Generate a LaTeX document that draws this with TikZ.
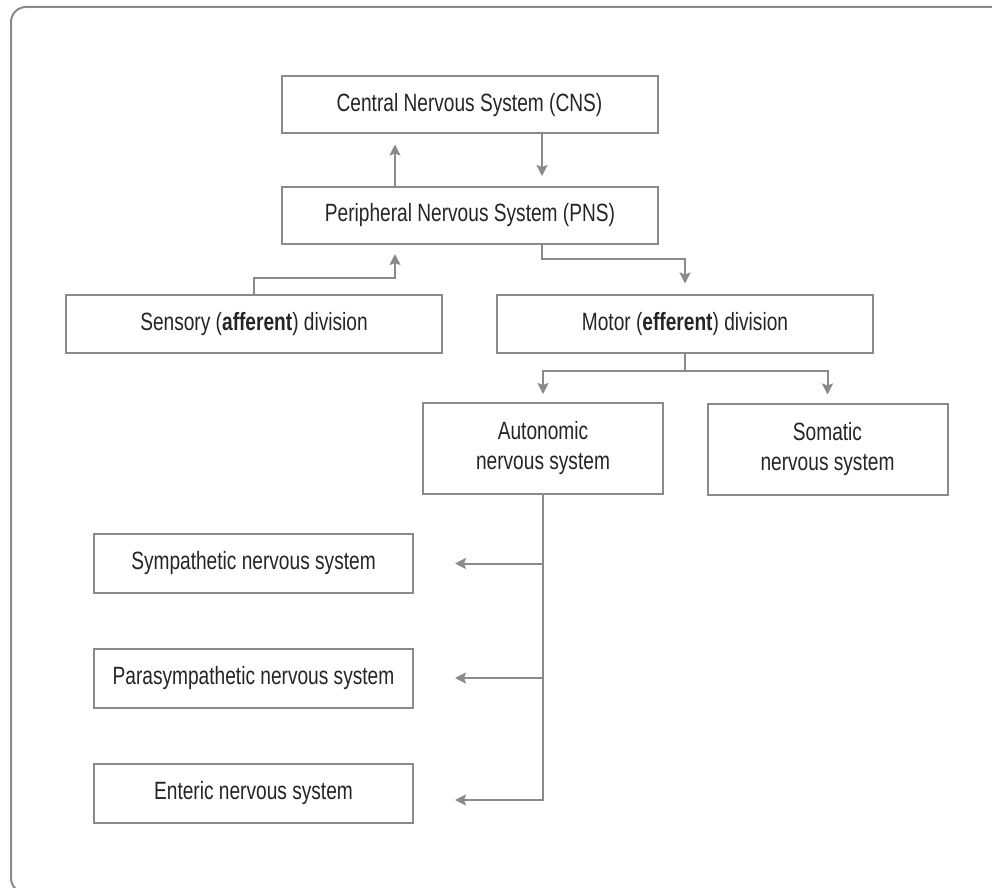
\documentclass[tikz,border=0pt]{standalone}
\usepackage{fontspec}
\setmainfont{Liberation Sans}[FakeStretch=0.765]
\usetikzlibrary{arrows.meta}
\definecolor{linegray}{HTML}{8A8A8A}
\definecolor{txt}{HTML}{252525}
\begin{document}
\begin{tikzpicture}[x=0.5pt,y=-0.5pt,
  box/.style={draw=linegray,line width=1pt,fill=white,text=txt,
    font=\fontsize{12.5}{15}\selectfont,align=center,inner sep=0pt},
  wide/.style={box,minimum width=188pt,minimum height=28.5pt},
  mid/.style={box,minimum width=120pt,minimum height=45.5pt},
  low/.style={box,minimum width=159.5pt,minimum height=29.5pt},
  conn/.style={draw=linegray,line width=1pt,
    -{Stealth[length=5.5pt,width=5.5pt,inset=1pt]}},
  frame/.style={draw=linegray,line width=1pt,rounded corners=7.5pt}
]
\useasboundingbox (0,0) rectangle (992,888);
\fill[white] (0,0) rectangle (992,888);
\draw[frame] (11,7) rectangle (1010,893);

\node[wide] (cns)   at (469.5,105)  {Central Nervous System (CNS)};
\node[wide] (pns)   at (470,215.5)  {Peripheral Nervous System (PNS)};
\node[wide] (sens)  at (254,324)    {Sensory (\textbf{afferent}) division};
\node[wide] (motor) at (685,324)    {Motor (\textbf{efferent}) division};
\node[mid]  (auto)  at (543,448.5)  {Autonomic\\nervous system};
\node[mid]  (soma)  at (827.5,449)  {Somatic\\nervous system};
\node[low]  (symp)  at (253.5,563.5){Sympathetic nervous system};
\node[low]  (para)  at (253.5,678)  {Parasympathetic nervous system};
\node[low]  (ent)   at (253.5,793)  {Enteric nervous system};

\coordinate (xa) at (542,0);
\coordinate (xb) at (395,0);
\coordinate (ya) at (0,259);
\coordinate (yb) at (0,278);
\coordinate (yc) at (0,371);
\coordinate (ye) at (0,800);
\coordinate (xl) at (455,0);

\draw[conn,shorten >=5pt] (xa |- cns.south) -- (xa |- pns.north);
\draw[conn,shorten >=5pt] (xb |- pns.north) -- (xb |- cns.south);
\draw[conn,shorten >=5.5pt] (xa |- pns.south) |- (motor.north |- ya) -- (motor.north);
\draw[conn,shorten >=4.5pt] (sens.north) |- (xb |- yb) -- (xb |- pns.south);
\draw[conn,shorten >=4pt] (motor.south) -- (motor.south |- yc) -| (auto.north);
\draw[conn,shorten >=4pt] (motor.south |- yc) -| (soma.north);
\draw[conn] (auto.south) |- (xl |- ye);
\draw[conn] (auto.south |- symp) -- (xl |- symp);
\draw[conn] (auto.south |- para) -- (xl |- para);
\end{tikzpicture}
\end{document}
